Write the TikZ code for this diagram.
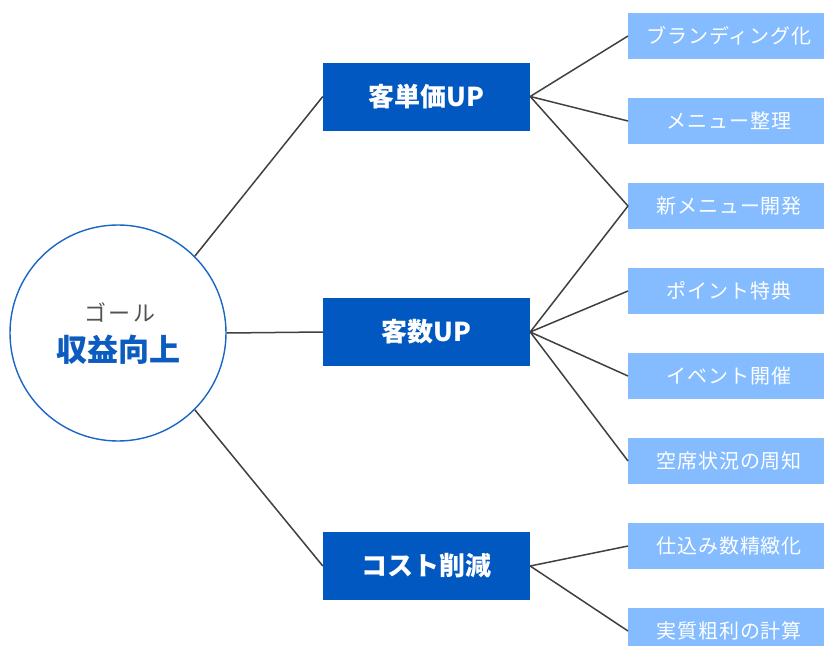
\documentclass[tikz,border=0pt]{standalone}
\usepackage{fontspec}
\newfontfamily\cjk{Noto Sans CJK JP}
\newfontfamily\cjkleaf[LetterSpace=4.5]{Noto Sans CJK JP}
\newfontfamily\cjkgoal[LetterSpace=12]{Noto Sans CJK JP}
\definecolor{midblue}{HTML}{0058C0}
\definecolor{lightblue}{HTML}{84BCFF}
\definecolor{ringblue}{HTML}{1A66C4}
\definecolor{textblue}{HTML}{0C5CC0}
\definecolor{linegrey}{HTML}{404040}
\tikzset{
  mid/.style={fill=midblue, draw=none, minimum width=207pt, minimum height=68pt, text=white, font=\cjk\bfseries\fontsize{26}{29}\selectfont, inner sep=0pt},
  leaf/.style={fill=lightblue, draw=none, minimum width=200pt, minimum height=46pt, text=white, font=\cjkleaf\fontsize{20}{22}\selectfont, inner sep=0pt, anchor=west},
  goal/.style={circle, draw=ringblue, line width=1.4pt, fill=white, minimum size=216pt, inner sep=0pt},
  link/.style={draw=linegrey, line width=1.5pt}
}
\begin{document}
\begin{tikzpicture}[x=1pt,y=-1pt]
\useasboundingbox (0,0) rectangle (824,645);
\clip (0,0) rectangle (824,645);
\fill[white] (0,0) rectangle (824,645);
% goal
\node[goal] (g) at (118,333) {};
\node[font=\cjkgoal\fontsize{22}{24}\selectfont, text=black!68] (gl) at (120,313) {ゴール};
\node[font=\cjk\bfseries\fontsize{31}{34}\selectfont, text=textblue] (gt) at (118,350) {収益向上};
% middle
\node[mid] (m1) at (426.5,96.5) {客単価UP};
\node[mid] (m2) at (426.5,332) {客数UP};
\node[mid] (m3) at (426.5,566) {コスト削減};
% leaves
\node[leaf] (l1) at (628,36) {\hspace*{2pt}ブランディング化};
\node[leaf] (l2) at (628,121) {\hspace*{2pt}メニュー整理};
\node[leaf] (l3) at (628,206) {\hspace*{2pt}新メニュー開発};
\node[leaf] (l4) at (628,291) {\hspace*{2pt}ポイント特典};
\node[leaf] (l5) at (628,376) {\hspace*{2pt}イベント開催};
\node[leaf] (l6) at (628,461) {\hspace*{2pt}空席状況の周知};
\node[leaf] (l7) at (628,546) {\hspace*{2pt}仕込み数精緻化};
\node[leaf] (l8) at (628,631) {\hspace*{2pt}実質粗利の計算};
% links
\draw[link] (g.45) -- (m1.west);
\draw[link] (g.east) -- (m2.west);
\draw[link] (g.-45) -- (m3.west);
\foreach \l in {l1,l2,l3} \draw[link] (m1.east) -- (\l.west);
\foreach \l in {l3,l4,l5,l6} \draw[link] (m2.east) -- (\l.west);
\foreach \l in {l7,l8} \draw[link] (m3.east) -- (\l.west);
\end{tikzpicture}
\end{document}
